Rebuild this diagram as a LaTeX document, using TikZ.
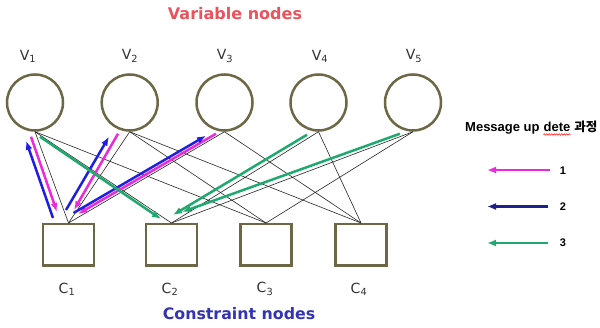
\documentclass[tikz,border=0pt]{standalone}
\usepackage{fontspec}
\usetikzlibrary{arrows.meta,calc,decorations.pathmorphing}
\newfontfamily\vfont{DejaVu Sans}
\newfontfamily\afont{Liberation Sans}
\newfontfamily\krfont{Noto Sans CJK KR}
\definecolor{olivedk}{RGB}{108,104,70}
\definecolor{msgpink}{RGB}{240,40,220}
\definecolor{msgblue}{RGB}{30,30,230}
\definecolor{legblue}{RGB}{30,30,140}
\definecolor{msggreen}{RGB}{30,170,110}
\definecolor{titlered}{RGB}{236,82,92}
\definecolor{titleblue}{RGB}{52,52,178}
\definecolor{labelgray}{RGB}{50,50,50}
\begin{document}
\begin{tikzpicture}[x=1pt,y=-1pt,
  varnode/.style={circle,draw=olivedk,line width=2.5pt,minimum size=56pt,inner sep=0pt},
  chknode/.style={rectangle,draw=olivedk,line width=2.5pt,minimum width=51pt,minimum height=41.5pt,inner sep=0pt},
  lbl/.style={font=\vfont\fontsize{14}{16}\selectfont,text=labelgray,inner sep=0pt},
  tgedge/.style={draw=black!85,line width=0.6pt},
  msg/.style={line width=2.5pt,-{Latex[length=9pt,width=7pt]}},
  m1/.style={msg,draw=msgpink,fill=msgpink},
  m2/.style={msg,draw=msgblue,fill=msgblue},
  m3/.style={msg,draw=msggreen,fill=msggreen},
  legtxt/.style={font=\afont\bfseries\fontsize{13}{15}\selectfont,inner sep=0pt,anchor=base west},
  legnum/.style={font=\afont\bfseries\fontsize{11}{13}\selectfont,inner sep=0pt}]
\useasboundingbox[fill=white] (0,0) rectangle (600,328);

% titles
\node[font=\vfont\bfseries\fontsize{16}{18}\selectfont,text=titlered,inner sep=0pt] (ttop) at (235,13.5) {Variable nodes};
\node[font=\vfont\bfseries\fontsize{15.8}{18}\selectfont,text=titleblue,inner sep=0pt] (tbot) at (239,313.5) {Constraint nodes};

% variable nodes
\node[varnode] (v1) at (35,102.5) {};
\node[varnode] (v2) at (129.7,102.5) {};
\node[varnode] (v3) at (224.5,102.5) {};
\node[varnode] (v4) at (318.5,102.5) {};
\node[varnode] (v5) at (413,102.5) {};
\node[lbl] (lv1) at (28,56) {V\textsubscript{1}};
\node[lbl] (lv2) at (130,56) {V\textsubscript{2}};
\node[lbl] (lv3) at (225,56) {V\textsubscript{3}};
\node[lbl] (lv4) at (320,56) {V\textsubscript{4}};
\node[lbl] (lv5) at (414,56) {V\textsubscript{5}};

% check nodes
\node[chknode] (c1) at (68.5,245) {};
\node[chknode] (c2) at (171.5,245) {};
\node[chknode] (c3) at (266,245) {};
\node[chknode] (c4) at (361,245) {};
\node[lbl] (lc1) at (67,289) {C\textsubscript{1}};
\node[lbl] (lc2) at (170,289) {C\textsubscript{2}};
\node[lbl] (lc3) at (265,289) {C\textsubscript{3}};
\node[lbl] (lc4) at (359,289) {C\textsubscript{4}};

% Tanner graph edges
\foreach \v/\c in {v1/c1,v1/c2,v1/c3,v2/c1,v2/c3,v2/c4,v3/c1,v3/c4,v4/c2,v4/c4,v5/c2,v5/c3}
  \draw[tgedge] (\v.south) -- (\c.north);

% messages: variable -> check (1)
\draw[m1] ([shift={(-4,5)}]v1.south) -- ([shift={(-11.5,-11)}]c1.north);
\draw[m1] ([shift={(-11.7,2)}]v2.south) -- ([shift={(5.5,-13)}]c1.north);
\draw[m1] ([shift={(-8.5,2)}]v3.south) -- ([shift={(9.5,-9)}]c1.north);
% messages: check -> variable (2)
\draw[m2] ([shift={(-15.5,-5)}]c1.north) -- ([shift={(-9,9)}]v1.south);
\draw[m2] ([shift={(-2.5,-13)}]c1.north) -- ([shift={(-20.7,5)}]v2.south);
\draw[m2] ([shift={(5,-10)}]c1.north) -- ([shift={(-18.5,4)}]v3.south);
% messages: (3)
\draw[m3] ([shift={(5,5)}]v1.south) -- ([shift={(-10.5,-4)}]c2.north);
\draw[m3] ([shift={(-11.5,3)}]v4.south) -- ([shift={(1.5,-8)}]c2.north);
\draw[m3] ([shift={(-13,2)}]v5.south) -- ([shift={(10.5,-11)}]c2.north);

% legend
\node[legtxt] (lg1) at (465,132) {Message up};
\node[legtxt] (lg2) at ([xshift=3.6pt]lg1.base east) {dete};
\node[legtxt,font=\krfont\bfseries\fontsize{12.5}{14}\selectfont] (lg3) at ([xshift=3.6pt]lg2.base east) {과정};
\draw[red,line width=0.5pt,decorate,decoration={snake,amplitude=0.8pt,segment length=2.5pt}]
  ([yshift=-2.5pt]lg2.base west) -- ([yshift=-2.5pt]lg2.base east);

\node[legnum] (n1) at (563,171) {1};
\node[legnum] (n2) at (563,206.5) {2};
\node[legnum] (n3) at (563,243) {3};
\coordinate (a1s) at (550,170);   \coordinate (a1e) at (487,170);
\coordinate (a2s) at (548,206.5); \coordinate (a2e) at (487,206.5);
\coordinate (a3s) at (548,243);   \coordinate (a3e) at (487,243);
\draw[m1] (a1s) -- (a1e);
\draw[msg,draw=legblue,fill=legblue] (a2s) -- (a2e);
\draw[m3] (a3s) -- (a3e);
\end{tikzpicture}
\end{document}
